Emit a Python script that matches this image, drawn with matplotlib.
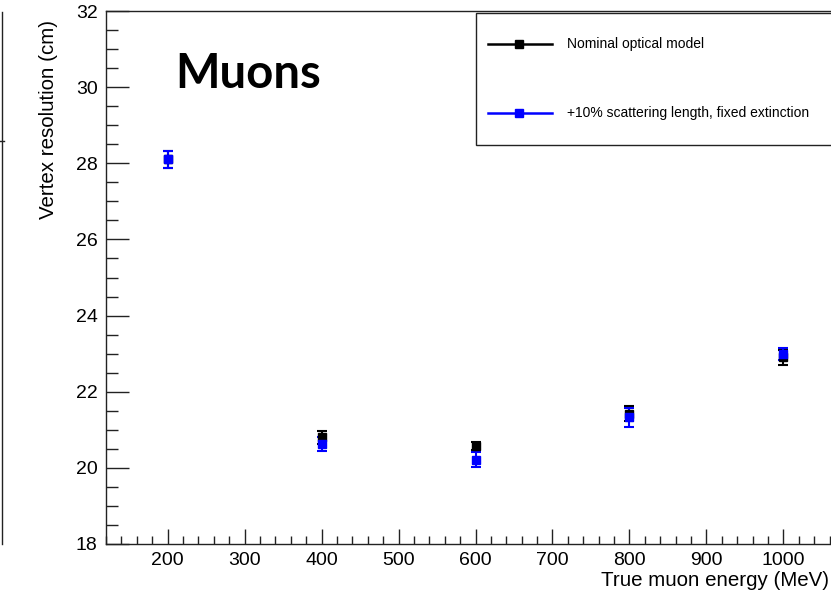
import matplotlib
matplotlib.use("Agg")
import matplotlib.pyplot as plt
from matplotlib.ticker import MultipleLocator
from matplotlib.lines import Line2D
from matplotlib.patches import Rectangle

# Vertex resolution vs true muon energy for two optical models
energy = [200, 400, 600, 800, 1000]
nominal = [28.10, 20.80, 20.57, 21.42, 22.90]
nominal_err = [0.22, 0.18, 0.10, 0.20, 0.20]
scatter10 = [28.10, 20.62, 20.21, 21.33, 23.00]
scatter10_err = [0.22, 0.18, 0.20, 0.25, 0.16]
series_labels = ["Nominal optical model", "+10% scattering length, fixed extinction"]
series_colors = ["black", "#0000ff"]

plt.rcParams["font.family"] = ["Liberation Sans", "DejaVu Sans"]

W, H = 831, 592
fig = plt.figure(figsize=(W / 100, H / 100), dpi=100)


def fx(px):
    return px / W


def fy(py):
    return 1 - py / H


ax = fig.add_axes([fx(106), fy(544), (845 - 106) / W, (544 - 11) / H])
ax.set_xlim(120, 1080)
ax.set_ylim(18, 32)

for y, err, c in [(nominal, nominal_err, series_colors[0]),
                  (scatter10, scatter10_err, series_colors[1])]:
    ax.errorbar(energy, y, yerr=err, fmt="s", color=c, ms=5.8, mec=c,
                elinewidth=1.5, capsize=3.5, capthick=1.5, lw=0, zorder=3)

ax.xaxis.set_major_locator(MultipleLocator(100))
ax.xaxis.set_minor_locator(MultipleLocator(20))
ax.yaxis.set_major_locator(MultipleLocator(2))
ax.yaxis.set_minor_locator(MultipleLocator(0.5))
ax.tick_params(axis="both", which="both", direction="in", color="#222222",
               width=1.0, labelsize=14, top=False, right=False)
ax.tick_params(axis="x", which="major", length=11, pad=6)
ax.tick_params(axis="x", which="minor", length=6)
ax.tick_params(axis="y", which="major", length=16.5, pad=6)
ax.tick_params(axis="y", which="minor", length=8.6)
for s in ax.spines.values():
    s.set_color("#222222")
    s.set_linewidth(1.0)

# Axis titles, aligned to the far ends of the axes
fig.text(fx(829), fy(586), "True muon energy (MeV)", ha="right", va="baseline",
         fontsize=14.8)
fig.text(fx(49), fy(20), "Vertex resolution (cm)", ha="center", va="top",
         rotation=90, fontsize=14.8)

# Panel label
fig.text(fx(175), fy(88), "Muons", ha="left", va="baseline", fontsize=34,
         fontweight="bold", family="Lato")

# Legend box
fig.patches.append(Rectangle((fx(476), fy(145)), fx(900) - fx(476), fy(13) - fy(145),
                             transform=fig.transFigure, facecolor="white",
                             edgecolor="#222222", lw=1.0, zorder=5))
for label, c, py in zip(series_labels, series_colors, [44, 113]):
    fig.lines.append(Line2D([fx(488), fx(552)], [fy(py), fy(py)], color=c, lw=1.8,
                            transform=fig.transFigure, zorder=6))
    fig.lines.append(Line2D([fx(519)], [fy(py)], marker="s", ms=5.8, color=c, lw=0,
                            transform=fig.transFigure, zorder=7))
    fig.text(fx(567), fy(py), label, ha="left", va="center", fontsize=10, zorder=7)

# Frame edge of the neighbouring panel
fig.lines.append(Line2D([fx(2), fx(2)], [fy(12), fy(544)], color="#222222", lw=1.0,
                        transform=fig.transFigure))
fig.lines.append(Line2D([fx(0), fx(4)], [fy(141), fy(141)], color="#222222", lw=1.0,
                        transform=fig.transFigure))

fig.savefig("out.png", dpi=100)
